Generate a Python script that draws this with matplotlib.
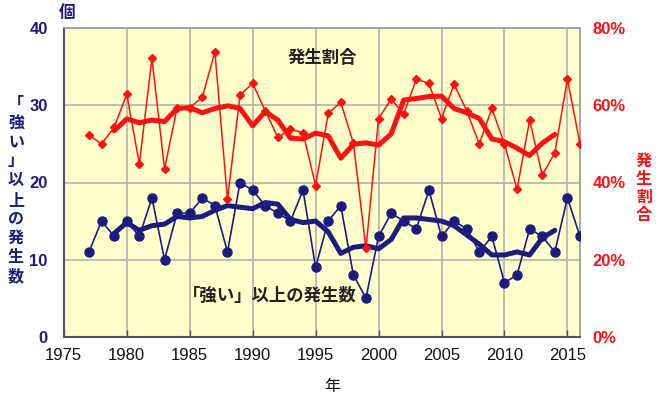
import matplotlib
matplotlib.use('Agg')
import matplotlib.pyplot as plt
from matplotlib.ticker import FixedLocator

# ---------------- data ----------------
years = list(range(1977, 2017))
strong_counts = [11, 15, 13, 15, 13, 18, 10, 16, 16, 18, 17, 11, 20, 19, 17, 16, 15, 19, 9, 15,
                 17, 8, 5, 13, 16, 15, 14, 19, 13, 15, 14, 11, 13, 7, 8, 14, 13, 11, 18, 13]
ratio_pct = [52.3, 50.0, 54.3, 62.9, 44.8, 72.2, 43.5, 59.4, 59.4, 62.1, 73.9, 35.6, 62.7, 65.7,
             58.6, 51.7, 53.8, 52.9, 39.2, 57.9, 60.8, 50.2, 22.9, 56.6, 61.6, 57.8, 66.8, 65.7,
             56.6, 65.5, 58.6, 50.0, 59.2, 50.0, 38.2, 56.2, 41.9, 47.7, 66.8, 50.0]
mean_years = list(range(1979, 2015))
strong_mean5 = [13.4, 14.8, 13.8, 14.4, 14.6, 15.6, 15.4, 15.6, 16.4, 17.0, 16.8, 16.6, 17.4, 17.2,
                15.2, 14.8, 15.0, 13.6, 10.8, 11.6, 11.8, 11.4, 12.6, 15.4, 15.4, 15.2, 15.0, 14.4,
                13.2, 12.0, 10.6, 10.6, 11.0, 10.6, 12.8, 13.8]
ratio_mean5 = [53.4, 56.5, 55.5, 56.2, 55.8, 59.2, 59.4, 58.1, 59.2, 59.9, 59.2, 54.7, 58.4, 56.2,
               51.5, 51.3, 52.8, 52.1, 46.3, 49.9, 50.3, 49.7, 52.6, 61.4, 61.8, 62.3, 62.4, 59.2,
               58.1, 56.6, 51.3, 50.6, 48.9, 47.0, 50.2, 52.5]
x_ticks = [1975, 1980, 1985, 1990, 1995, 2000, 2005, 2010, 2015]
left_ticks = [0, 10, 20, 30, 40]
right_ticks = [0, 20, 40, 60, 80]
right_labels = ['0%', '20%', '40%', '60%', '80%']

# ---------------- style ----------------
NAVY = '#1c1c80'
RED = '#ff1010'
CJK = ['Noto Sans CJK JP', 'DejaVu Sans']
NUM = ['Liberation Sans', 'DejaVu Sans']

W, H = 660, 409
fig = plt.figure(figsize=(W / 100, H / 100), dpi=100)
L, R, T, B = 63.8, 580.0, 28.3, 336.7
ax = fig.add_axes([L / W, 1 - B / H, (R - L) / W, (B - T) / H])
ax.set_facecolor('#ffffcc')

ax.set_xlim(1975, 2016)
ax.set_ylim(0, 40)
ax.xaxis.set_major_locator(FixedLocator(x_ticks))
ax.yaxis.set_major_locator(FixedLocator(left_ticks))
ax.grid(True, color='#b8b8b0', linewidth=1.3)
ax.set_axisbelow(True)

for s in ['top', 'right']:
    ax.spines[s].set_color('#9a9a9a')
    ax.spines[s].set_linewidth(1.2)
for s in ['left', 'bottom']:
    ax.spines[s].set_color('#555555')
    ax.spines[s].set_linewidth(1.5)

ax.tick_params(axis='x', direction='in', length=5, width=1, color='#555555', pad=8,
               labelsize=12, labelcolor='#111111')
ax.tick_params(axis='y', length=0, pad=11.5, labelsize=12, labelcolor=NAVY)
for lab in ax.get_xticklabels():
    lab.set_family(NUM)
for lab in ax.get_yticklabels():
    lab.set_family(NUM)
    lab.set_fontweight('bold')

# blue series
ax.plot(years, strong_counts, color=NAVY, linewidth=1.2, marker='o', markersize=6.5,
        markerfacecolor=NAVY, markeredgecolor=NAVY, zorder=3)
ax.plot(mean_years, strong_mean5, color=NAVY, linewidth=3.6, solid_capstyle='round',
        solid_joinstyle='round', zorder=4)

# red series on right axis
ax2 = ax.twinx()
ax2.set_ylim(0, 80)
ax2.yaxis.set_major_locator(FixedLocator(right_ticks))
ax2.set_yticklabels(right_labels)
ax2.tick_params(axis='y', length=0, pad=9, labelsize=12, labelcolor=RED)
for lab in ax2.get_yticklabels():
    lab.set_family(NUM)
    lab.set_fontweight('bold')
for s in ax2.spines.values():
    s.set_visible(False)
ax2.plot(years, ratio_pct, color=RED, linewidth=1.1, marker='D', markersize=4.5,
         markerfacecolor=RED, markeredgecolor=RED, zorder=3)
ax2.plot(mean_years, ratio_mean5, color=RED, linewidth=3.6, solid_capstyle='round',
         solid_joinstyle='round', zorder=4)

# ---------------- texts ----------------
def px(x, y):
    return x / W, 1 - y / H

fig.text(*px(67, 13), '個', color=NAVY, fontsize=12, fontweight='bold', family=CJK,
         ha='center', va='center')
left_label = '「強い」以上の発生数'
fig.text(*px(16, 190), '\n'.join(left_label), color=NAVY, fontsize=11.5, fontweight='bold',
         family=CJK, ha='center', va='center', linespacing=1.25)
right_label = '発生割合'
fig.text(*px(644, 188), '\n'.join(right_label), color=RED, fontsize=11.5, fontweight='bold',
         family=CJK, ha='center', va='center', linespacing=1.15)
fig.text(*px(332, 386), '年', color='#111111', fontsize=11.5, family=CJK,
         ha='center', va='center')
fig.text(*px(322, 58), '発生割合', color='#222222', fontsize=12.5, fontweight='bold',
         family=CJK, ha='center', va='center')
fig.text(*px(270, 296), '「強い」以上の発生数', color='#222222', fontsize=12.5,
         fontweight='bold', family=CJK, ha='center', va='center')

fig.savefig('out.png', dpi=100, facecolor='white')
